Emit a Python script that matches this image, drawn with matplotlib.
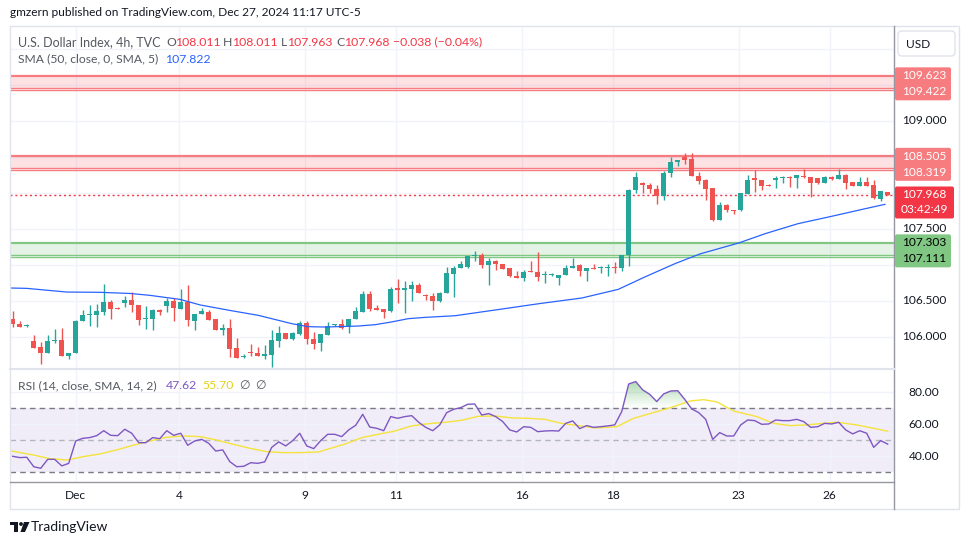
import numpy as np
import matplotlib
matplotlib.use("Agg")
import matplotlib.pyplot as plt
from matplotlib.patches import Rectangle, FancyBboxPatch, Polygon, Circle
from matplotlib.transforms import IdentityTransform, blended_transform_factory

plt.rcParams['font.family'] = ['Lato', 'DejaVu Sans']

# ---- data (4h candles) ----
opens = [106.25, 106.176, 106.15, 105.94, 105.85, 105.78, 105.94, 105.96, 105.73, 105.77,
         106.22, 106.296, 106.296, 106.337, 106.486, 106.40, 106.463, 106.514, 106.444, 106.245,
         106.24, 106.375, 106.42, 106.50, 106.39, 106.48, 106.217, 106.31, 106.347, 106.245,
         106.088, 106.12, 105.847, 105.713, 105.784, 105.778, 105.727, 105.75, 105.935, 106.055,
         105.963, 106.042, 106.194, 105.972, 105.907, 106.028, 106.158, 106.176, 106.134, 106.24,
         106.338, 106.597, 106.403, 106.38, 106.352, 106.676, 106.644, 106.667, 106.713, 106.57,
         106.569, 106.5, 106.602, 106.875, 106.954, 106.963, 107.12, 107.139, 106.995, 107.051,
         107.014, 106.954, 106.847, 106.81, 106.903, 106.903, 106.861, 106.856, 106.81, 106.852,
         106.949, 107.0, 106.907, 106.958, 106.954, 106.954, 106.958, 106.954, 107.139, 108.042,
         108.13, 108.102, 108.056, 107.949, 108.27, 108.426, 108.496, 108.463, 108.236, 108.172,
         108.07, 107.625, 107.834, 107.764, 107.755, 107.986, 108.2, 108.172, 108.107, 108.172,
         108.209, 108.209, 108.2, 108.236, 108.218, 108.2, 108.135, 108.218, 108.19, 108.241,
         108.144, 108.088, 108.153, 108.112, 107.917, 108.011]
highs = [106.35, 106.22, 106.18, 106.03, 105.92, 106.03, 106.10, 106.125, 105.78, 106.236,
         106.365, 106.444, 106.45, 106.736, 106.514, 106.416, 106.569, 106.615, 106.444, 106.42,
         106.39, 106.39, 106.537, 106.54, 106.666, 106.722, 106.319, 106.398, 106.365, 106.245,
         106.18, 106.25, 105.986, 105.755, 105.898, 105.861, 105.88, 106.088, 106.148, 106.055,
         106.065, 106.213, 106.213, 106.065, 106.037, 106.204, 106.176, 106.25, 106.25, 106.407,
         106.639, 106.63, 106.435, 106.38, 106.69, 106.806, 106.768, 106.768, 106.741, 106.597,
         106.611, 106.62, 106.972, 106.981, 107.046, 107.12, 107.194, 107.167, 107.093, 107.069,
         107.014, 106.954, 106.917, 106.931, 107.056, 107.181, 106.907, 106.88, 106.861, 106.991,
         107.093, 107.014, 106.958, 107.014, 106.981, 107.009, 107.037, 107.139, 108.056, 108.292,
         108.148, 108.139, 108.111, 108.301, 108.50, 108.45, 108.551, 108.551, 108.287, 108.195,
         108.07, 107.871, 107.848, 107.764, 108.0, 108.25, 108.311, 108.181, 108.116, 108.227,
         108.227, 108.236, 108.246, 108.329, 108.218, 108.2, 108.227, 108.236, 108.324, 108.255,
         108.144, 108.218, 108.218, 108.181, 108.028, 108.011]
lows = [106.14, 106.13, 106.14, 105.84, 105.616, 105.78, 105.91, 105.73, 105.685, 105.77,
        106.22, 106.143, 106.13, 106.296, 106.24, 106.38, 106.407, 106.338, 106.157, 106.10,
        106.088, 106.296, 106.338, 106.217, 106.39, 106.148, 106.088, 106.31, 106.236, 106.088,
        106.018, 105.72, 105.70, 105.70, 105.731, 105.727, 105.694, 105.579, 105.852, 105.963,
        105.949, 106.018, 105.903, 105.833, 105.796, 106.028, 106.148, 106.102, 106.046, 106.24,
        106.338, 106.352, 106.366, 106.259, 106.343, 106.472, 106.333, 106.495, 106.611, 106.505,
        106.366, 106.481, 106.602, 106.551, 106.954, 106.954, 107.046, 106.954, 106.722, 106.921,
        106.935, 106.829, 106.81, 106.769, 106.894, 106.769, 106.75, 106.847, 106.713, 106.852,
        106.949, 106.838, 106.769, 106.935, 106.889, 106.838, 106.889, 106.907, 106.981, 107.995,
        107.995, 108.0, 107.838, 107.894, 108.218, 108.366, 108.403, 108.227, 108.116, 107.903,
        107.602, 107.625, 107.736, 107.70, 107.745, 107.986, 108.01, 108.033, 108.088, 108.07,
        108.135, 108.079, 108.065, 108.204, 107.94, 108.125, 108.135, 108.172, 108.19, 108.047,
        108.088, 108.088, 108.088, 107.908, 107.885, 107.963]
closes = [106.17, 106.13, 106.155, 105.84, 105.78, 105.94, 105.96, 105.73, 105.78, 106.22,
          106.305, 106.305, 106.36, 106.486, 106.39, 106.38, 106.514, 106.435, 106.236, 106.25,
          106.365, 106.338, 106.50, 106.398, 106.48, 106.23, 106.319, 106.36, 106.236, 106.088,
          106.12, 105.835, 105.704, 105.718, 105.775, 105.727, 105.759, 105.958, 106.055, 105.963,
          106.055, 106.194, 105.963, 105.894, 106.037, 106.148, 106.165, 106.125, 106.25, 106.352,
          106.597, 106.389, 106.366, 106.343, 106.667, 106.644, 106.676, 106.722, 106.611, 106.565,
          106.491, 106.602, 106.889, 106.958, 107.014, 107.12, 107.139, 106.991, 107.046, 107.005,
          106.944, 106.838, 106.81, 106.903, 106.894, 106.833, 106.87, 106.866, 106.861, 106.958,
          106.986, 106.907, 106.958, 106.935, 106.958, 106.963, 106.954, 107.139, 108.042, 108.222,
          108.111, 108.046, 107.954, 108.278, 108.426, 108.45, 108.45, 108.227, 108.158, 108.056,
          107.625, 107.834, 107.755, 107.75, 108.0, 108.181, 108.172, 108.088, 108.098, 108.209,
          108.213, 108.204, 108.246, 108.213, 108.13, 108.139, 108.218, 108.19, 108.241, 108.13,
          108.088, 108.153, 108.088, 107.926, 108.028, 107.968]

sma_idx = [-0.4, 2.0, 7.7, 12.5, 16.8, 19.6, 23.9, 26.8, 31.0, 35.1, 39.9, 42.2, 44.6, 49.4,
           51.8, 54.1, 56.5, 58.9, 63.2, 69.6, 75.3, 81.3, 86.5, 90.3, 94.6, 98.2, 103.7,
           107.5, 112.2, 117.0, 121.8, 124.6]
sma_val = [106.676, 106.671, 106.62, 106.616, 106.60, 106.574, 106.518, 106.44, 106.365,
           106.296, 106.18, 106.139, 106.134, 106.148, 106.167, 106.204, 106.25, 106.268,
           106.291, 106.38, 106.46, 106.537, 106.657, 106.829, 107.014, 107.15, 107.301,
           107.431, 107.57, 107.672, 107.778, 107.838]

rsi = [40.0, 39.2, 39.4, 33.5, 32.5, 38.1, 38.1, 34.0, 35.6, 49.6,
       51.25, 51.7, 52.9, 56.0, 53.1, 52.9, 56.9, 54.4, 48.5, 48.5,
       51.7, 51.0, 56.0, 53.1, 54.4, 46.9, 49.6, 50.6, 48.1, 43.3,
       44.0, 36.7, 33.5, 33.75, 36.0, 35.6, 36.5, 45.6, 49.0, 46.5,
       49.8, 54.4, 46.5, 44.8, 49.8, 53.75, 53.75, 52.3, 56.5, 59.4,
       66.25, 58.3, 57.5, 56.0, 64.8, 63.75, 64.8, 65.4, 61.25, 58.1,
       56.0, 59.6, 67.3, 69.4, 70.4, 72.5, 72.7, 65.8, 66.7, 64.8,
       61.7, 56.5, 55.2, 58.5, 58.1, 55.4, 55.8, 56.0, 55.8, 60.6,
       62.1, 57.3, 59.2, 58.1, 58.5, 59.0, 59.6, 67.9, 85.2, 86.7,
       81.5, 78.75, 74.2, 79.0, 80.8, 81.0, 75.6, 69.6, 67.3, 63.1,
       50.6, 54.8, 52.7, 52.7, 59.6, 62.7, 62.3, 60.0, 60.2, 62.7,
       62.3, 62.3, 63.1, 61.7, 58.1, 58.5, 60.6, 60.2, 61.25, 56.5,
       54.0, 56.0, 54.4, 45.6, 49.8, 47.62]

rsi_ma_idx = [-0.4, 2.95, 5.33, 7.71, 10.1, 12.5, 14.85, 17.2, 19.6, 22.0, 24.4, 26.8, 29.1,
              31.5, 33.9, 36.3, 38.7, 41.0, 43.7, 45.1, 47.5, 49.9, 52.2, 54.6, 57.0, 59.4,
              61.8, 64.1, 66.5, 68.9, 71.3, 73.7, 76.0, 78.4, 80.8, 83.2, 86.3, 88.7, 92.0,
              94.4, 96.8, 98.7, 100.6, 103.0, 106.3, 108.7, 111.0, 113.4, 115.8, 117.7,
              120.6, 123.0, 125.0]
rsi_ma_val = [43.5, 40.8, 38.5, 37.7, 39.8, 41.5, 44.0, 46.9, 49.6, 51.9, 52.7, 52.3, 50.2,
              47.5, 45.0, 42.9, 42.3, 42.3, 42.7, 44.6, 47.7, 51.7, 53.75, 55.8, 59.0, 60.4,
              61.25, 62.5, 65.0, 65.2, 64.0, 63.75, 63.1, 60.6, 59.2, 57.7, 58.5, 63.75, 67.9,
              71.0, 74.6, 75.4, 74.0, 68.3, 64.8, 60.6, 59.2, 59.6, 60.6, 61.25, 59.6, 57.5,
              55.7]

zone_tops = [109.623, 108.505, 107.303]
zone_bottoms = [109.422, 108.319, 107.111]
zone_kind = ['res', 'res', 'sup']
last_price = 107.968
timer_text = '03:42:49'

date_labels = ['Dec', '4', '9', '11', '16', '18', '23', '26']
date_pos = [9.0, 23.8, 41.8, 54.8, 72.8, 85.7, 103.7, 116.7]
price_ticks = [109.0, 107.5, 106.5, 106.0]
rsi_ticks = [80, 60, 40]

# ---- colours ----
UP, DOWN = '#26a69a', '#ef5350'
RED_LINE, RED_BOX = '#f77c80', '#f77c80'
GREEN_LINE, GREEN_BOX = '#81c784', '#81c784'
GRID = '#f0f3fa'
TXT = '#131722'
GREY = '#787b86'

W, H = 970, 545
fig = plt.figure(figsize=(W / 100, H / 100), dpi=100)
fig.patch.set_facecolor('white')
pix = IdentityTransform()


def fx(x):
    return x / W


def fy(y):
    return 1 - y / H


# ---- main pane ----
ax = fig.add_axes([fx(10), fy(369), 884 / W, 341 / H])
ax.set_xlim(-0.39, 125.9)
ax.set_ylim(105.551, 110.2875)
ax.axis('off')

for p in np.arange(105.5, 110.5, 0.5):
    ax.axhline(p, color=GRID, lw=1, zorder=0)
for d in date_pos:
    ax.axvline(d, color=GRID, lw=1, zorder=0)

for top, bot, kind in zip(zone_tops, zone_bottoms, zone_kind):
    if kind == 'res':
        fill, line = '#f23645', RED_LINE
    else:
        fill, line = '#4caf50', GREEN_LINE
    ax.axhspan(bot + 0.03, top, color=fill, alpha=0.14, lw=0, zorder=1)
    ax.axhline(top, color=line, lw=1.6, zorder=2)
    ax.axhline(bot + 0.03, color=line, lw=1.0, zorder=2)
    ax.axhline(bot, color=line, lw=1.0, zorder=2)

o = np.array(opens)
c = np.array(closes)
x = np.arange(len(c))
col = np.where(c >= o, UP, DOWN)
ax.vlines(x, lows, highs, colors=col, lw=1, zorder=3)
body = np.maximum(np.abs(c - o), 0.013)
ax.bar(x, body, bottom=np.minimum(o, c), width=0.75, color=col, lw=0, zorder=4)

ax.plot(sma_idx, sma_val, color='#2962ff', lw=0.9, zorder=5)
ax.axhline(last_price, color='#f23645', lw=1, ls=(0, (1.5, 2)), zorder=2)

# ---- RSI pane ----
ax2 = fig.add_axes([fx(10), fy(482), 884 / W, 113 / H])
ax2.set_xlim(-0.39, 125.9)
ax2.set_ylim(23.94, 94.56)
ax2.axis('off')
ax2.axhspan(30, 70, color='#7e57c2', alpha=0.1, lw=0, zorder=0)
for v in rsi_ticks:
    ax2.axhline(v, color=GRID, lw=1, zorder=0)
for d in date_pos:
    ax2.axvline(d, color=GRID, lw=1, zorder=0)
ax2.axhline(70, color=GREY, lw=1, ls=(0, (4, 3)), zorder=1)
ax2.axhline(30, color=GREY, lw=1, ls=(0, (4, 3)), zorder=1)
ax2.axhline(50, color='#b2b5be', lw=1, ls=(0, (4, 3)), zorder=1)

r = np.array(rsi)
over = ax2.fill_between(x, r, 70, where=r > 70, interpolate=True, color='none', lw=0)
grad = np.zeros((100, 2, 4))
grad[..., 0:3] = matplotlib.colors.to_rgb('#4caf50')
grad[..., 3] = np.linspace(0.55, 0.0, 100)[:, None]
for path in over.get_paths():
    im = ax2.imshow(grad, extent=[-0.39, 125.9, 70, 90], origin='upper', aspect='auto', zorder=2)
    im.set_clip_path(path, transform=ax2.transData)
ax2.set_xlim(-0.39, 125.9)
ax2.set_ylim(23.94, 94.56)

ax2.plot(rsi_ma_idx, rsi_ma_val, color='#f5e33b', lw=1.0, zorder=3)
ax2.plot(x, r, color='#7e57c2', lw=1.0, zorder=4)

# ---- frame lines ----
fig.patches.append(Rectangle((10, H - 509), 949, 483, transform=pix, fill=False,
                             ec='#e0e3eb', lw=1))
fig.lines.append(plt.Line2D([894, 894], [H - 509, H - 26], transform=pix, color='#9598a1', lw=1))
fig.lines.append(plt.Line2D([10, 894], [H - 482, H - 482], transform=pix, color='#9598a1', lw=1))
fig.lines.append(plt.Line2D([10, 894], [H - 369, H - 369], transform=pix, color='#e0e3eb', lw=1.5))

# ---- axis labels ----
FS = 8.6
tr_main = blended_transform_factory(fig.transFigure, ax.transData)
tr_rsi = blended_transform_factory(fig.transFigure, ax2.transData)
for p in price_ticks:
    fig.text(fx(924), p, f'{p:.3f}', transform=tr_main, ha='center', va='center',
             fontsize=FS, color=TXT)
for v in rsi_ticks:
    fig.text(fx(924), v, f'{v:.2f}', transform=tr_rsi, ha='center', va='center',
             fontsize=FS, color=TXT)
tr_x = blended_transform_factory(ax.transData, fig.transFigure)
for lab, d in zip(date_labels, date_pos):
    fig.text(d, fy(495.5), lab, transform=tr_x, ha='center', va='center', fontsize=FS, color=TXT)


def price_px(p):
    return H - ax.transData.transform((0, p))[1]


def label_box(y1, y2, t1, t2, face, tcol, w=56):
    fig.patches.append(FancyBboxPatch((895, H - (y2 + 8.5)), w, (y2 - y1) + 17,
                                      boxstyle='round,pad=0,rounding_size=2', transform=pix,
                                      fc=face, ec='none', zorder=5))
    fig.text(fx(924), fy(y1), t1, ha='center', va='center', fontsize=FS, color=tcol, zorder=6)
    fig.text(fx(924), fy(y2), t2, ha='center', va='center', fontsize=FS, color=tcol, zorder=6)


for top, bot, kind in zip(zone_tops, zone_bottoms, zone_kind):
    face, tcol = (RED_BOX, 'white') if kind == 'res' else (GREEN_BOX, 'black')
    y1, y2 = price_px(top), price_px(bot)
    y2 = max(y2, y1 + 16)
    label_box(y1, y2, f'{top:.3f}', f'{bot:.3f}', face, tcol)
ylp = price_px(last_price)
label_box(ylp, ylp + 15, f'{last_price:.3f}', timer_text, '#f23645', 'white', w=59)

# USD box
fig.patches.append(FancyBboxPatch((898, H - 56), 57, 25, boxstyle='round,pad=0,rounding_size=4',
                                  transform=pix, fc='white', ec='#e0e3eb', lw=1))
fig.text(fx(906), fy(44), 'USD', ha='left', va='center', fontsize=FS, color=TXT)

# ---- header / legends ----
fig.text(fx(10), fy(12), 'gmzern published on TradingView.com, Dec 27, 2024 11:17 UTC-5',
         ha='left', va='center', fontsize=8.6, color=TXT)


def seg(xp, yp, s, color, size=8.8):
    fig.text(fx(xp), fy(yp), s, ha='left', va='center', fontsize=size, color=color)


LG = '#555961'
R = '#f23645'
seg(18, 42, 'U.S. Dollar Index, 4h, TVC', LG, 9.0)
seg(166, 42, 'O', LG)
seg(175, 42, '108.011', R)
seg(223, 42, 'H', LG)
seg(232, 42, '108.011', R)
seg(281, 42, 'L', LG)
seg(287, 42, '107.963', R)
seg(336, 42, 'C', LG)
seg(344.5, 42, '107.968', R)
seg(393.5, 42, '\u22120.038 (\u22120.04%)', R)
seg(18, 59, 'SMA (50, close, 0, SMA, 5)', LG, 8.7)
seg(165.5, 59, '107.822', '#2962ff')

seg(18, 385.5, 'RSI (14, close, SMA, 14, 2)', LG, 8.7)
seg(165.5, 385.5, '47.62', '#7e57c2')
seg(202.5, 385.5, '55.70', '#e6cf1f')
seg(239, 385.5, '\u2205', LG)
seg(255.5, 385.5, '\u2205', LG)

# ---- footer logo ----
fig.patches.append(Rectangle((10, H - 525), 8, 3.2, transform=pix, fc=TXT, ec='none'))
fig.patches.append(Rectangle((14, H - 532), 4, 10, transform=pix, fc=TXT, ec='none'))
fig.patches.append(Circle((21, H - 524), 1.9, transform=pix, fc=TXT, ec='none'))
fig.patches.append(Polygon([(24, H - 522), (29.5, H - 522), (25, H - 532), (20.5, H - 532)],
                           closed=True, transform=pix, fc=TXT, ec='none'))
fig.text(fx(31), fy(527), 'TradingView', ha='left', va='center', fontsize=10, color=TXT)

fig.savefig('out.png', dpi=100)
